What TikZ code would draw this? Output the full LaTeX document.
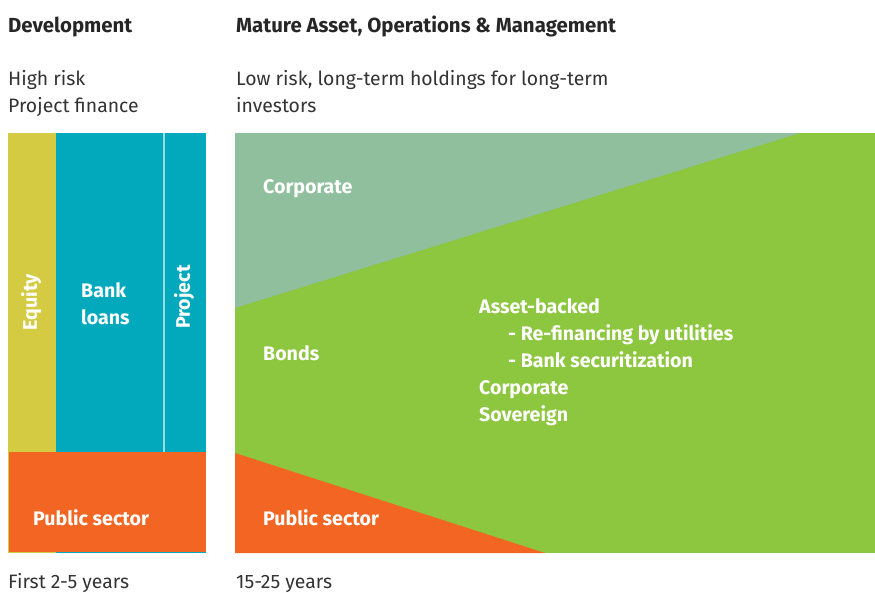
\documentclass[tikz,border=0pt]{standalone}
\usepackage{fontspec}
\setmainfont{Fira Sans}
\begin{document}
\begin{tikzpicture}[x=1pt,y=-1pt,
  lbl/.style={font=\fontsize{19.6}{22}\selectfont\bfseries, text=white, inner sep=0pt, anchor=base west},
  head/.style={font=\fontsize{20.4}{22}\selectfont\bfseries, text=black!85, inner sep=0pt, anchor=base west},
  txt/.style={font=\fontsize{19.4}{24}\selectfont, text=black!80, inner sep=0pt, anchor=base west},
  rot/.style={font=\fontsize{19.6}{22}\selectfont\bfseries, text=white, inner sep=0pt, rotate=90}]
\definecolor{cyel}{HTML}{D4CB42}
\definecolor{cteal}{HTML}{02A8BC}
\definecolor{csage}{HTML}{8FBF9C}
\definecolor{cgreen}{HTML}{8DC63F}
\definecolor{corange}{HTML}{F26522}
\useasboundingbox (0,0) rectangle (875,592);
% left block
\fill[cyel] (8,133) rectangle (56,553);
\fill[cteal] (56,133) rectangle (206,553);
\fill[white!60!cteal] (163,133) rectangle (165,452);
\fill[corange] (9,452) rectangle (206,552);
% right block
\fill[cgreen] (235,133) rectangle (875,553);
\fill[csage] (235,133) -- (800,133) -- (235,308) -- cycle;
\fill[corange] (235,453) -- (545,553) -- (235,553) -- cycle;
% headings
\node[head] (h1) at (8,32) {Development};
\node[head] (h2) at (236,32) {Mature Asset, Operations \& Management};
\node[txt] (t1a) at (8,85) {High risk};
\node[txt] (t1b) at (8,112) {Project finance};
\node[txt] (t2a) at (236,85) {Low risk, long-term holdings for long-term};
\node[txt] (t2b) at (236,112) {investors};
\node[txt] (b1) at (8,588) {First 2-5 years};
\node[txt] (b2) at (236,588) {15-25 years};
% labels
\node[rot] (eq) at (31,302) {Equity};
\node[lbl] (bank1) at (81,297) {Bank};
\node[lbl] (bank2) at (81,324) {loans};
\node[rot] (proj) at (184,297) {Project};
\node[lbl] (ps1) at (33,525) {Public sector};
\node[lbl] (corp) at (263,193) {Corporate};
\node[lbl] (bonds) at (263,360) {Bonds};
\node[lbl] (a1) at (479,313) {Asset-backed};
\node[lbl] (a2) at (479,340) {\hspace*{29pt}- Re-financing by utilities};
\node[lbl] (a3) at (479,367) {\hspace*{29pt}- Bank securitization};
\node[lbl] (a4) at (479,394) {Corporate};
\node[lbl] (a5) at (479,421) {Sovereign};
\node[lbl] (ps2) at (263,525) {Public sector};
\end{tikzpicture}
\end{document}
